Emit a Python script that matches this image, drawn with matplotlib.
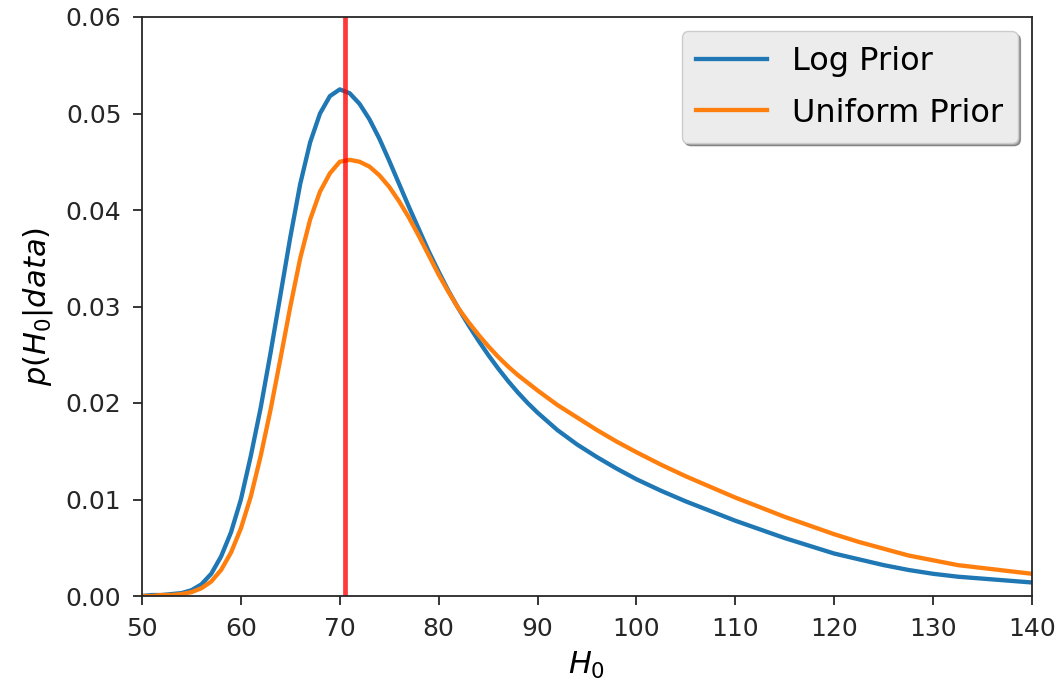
import matplotlib
matplotlib.use("Agg")
import matplotlib.pyplot as plt

# H0 grid (km/s/Mpc)
h0 = [50, 51, 52, 53, 54, 55, 56, 57, 58, 59, 60, 61, 62, 63, 64, 65, 66, 67, 68, 69,
      70, 71, 72, 73, 74, 75, 76, 77, 78, 79, 80, 81, 82, 83, 84, 85, 86, 87, 88, 89,
      90, 92, 94, 96, 98, 100, 102.5, 105, 107.5, 110, 112.5, 115, 117.5, 120,
      122.5, 125, 127.5, 130, 132.5, 135, 137.5, 140]

log_prior = [0.0000, 0.0001, 0.0001, 0.0002, 0.0003, 0.0006, 0.0012, 0.0023, 0.0041, 0.0066,
             0.0100, 0.0145, 0.0195, 0.0252, 0.0312, 0.0372, 0.0427, 0.0470, 0.0500, 0.0518,
             0.0525, 0.0521, 0.0510, 0.0494, 0.0474, 0.0451, 0.0427, 0.0403, 0.0380, 0.0357,
             0.0336, 0.0316, 0.0298, 0.0281, 0.0265, 0.0250, 0.0236, 0.0223, 0.0211, 0.0200,
             0.0190, 0.0172, 0.0157, 0.0144, 0.0132, 0.0121, 0.0109, 0.0098, 0.0088, 0.0078,
             0.0069, 0.0060, 0.0052, 0.0044, 0.0038, 0.0032, 0.0027, 0.0023, 0.0020, 0.0018,
             0.0016, 0.0014]

uniform_prior = [0.0000, 0.0000, 0.0001, 0.0001, 0.0002, 0.0004, 0.0008, 0.0015, 0.0027, 0.0045,
                 0.0070, 0.0103, 0.0145, 0.0193, 0.0246, 0.0300, 0.0350, 0.0390, 0.0419, 0.0438,
                 0.0450, 0.0452, 0.0450, 0.0445, 0.0436, 0.0424, 0.0409, 0.0392, 0.0373, 0.0353,
                 0.0333, 0.0315, 0.0298, 0.0284, 0.0271, 0.0259, 0.0248, 0.0238, 0.0229, 0.0221,
                 0.0213, 0.0198, 0.0185, 0.0172, 0.0160, 0.0149, 0.0136, 0.0124, 0.0113, 0.0102,
                 0.0092, 0.0082, 0.0073, 0.0064, 0.0056, 0.0049, 0.0042, 0.0037, 0.0032, 0.0029,
                 0.0026, 0.0023]

h0_true = 70.5
x_ticks = [50, 60, 70, 80, 90, 100, 110, 120, 130, 140]
y_ticks = [0.00, 0.01, 0.02, 0.03, 0.04, 0.05, 0.06]

fig = plt.figure(figsize=(10.6, 6.92), dpi=100)
ax = fig.add_axes([142/1060, 1 - 596/692, (1032-142)/1060, (596-17)/692])

ax.plot(h0, log_prior, color="#1f77b4", lw=3.1, label="Log Prior", solid_joinstyle="round")
ax.plot(h0, uniform_prior, color="#ff7f0e", lw=3.1, label="Uniform Prior", solid_joinstyle="round")
ax.axvline(h0_true, color="red", alpha=0.78, lw=3.4)

ax.set_xlim(50, 140)
ax.set_ylim(0, 0.06)
ax.set_xticks(x_ticks)
ax.set_yticks(y_ticks)
ax.set_yticklabels([f"{v:.2f}" for v in y_ticks])
ax.tick_params(labelsize=18, length=6.3, width=1.3, pad=8.5, colors="#262626")
for s in ax.spines.values():
    s.set_linewidth(1.3)
    s.set_color("#262626")

ax.set_xlabel(r"$H_0$", fontsize=22, labelpad=7)
ax.set_ylabel(r"$p(H_0|data)$", fontsize=22, labelpad=8)

leg = ax.legend(loc="upper right", fontsize=23, shadow=True, fancybox=True,
                framealpha=1, facecolor="#ececec", edgecolor="#cccccc",
                handlelength=2.2, handletextpad=0.8, borderpad=0.45,
                labelspacing=0.65, borderaxespad=0.45)

fig.savefig("out.png", dpi=100)
